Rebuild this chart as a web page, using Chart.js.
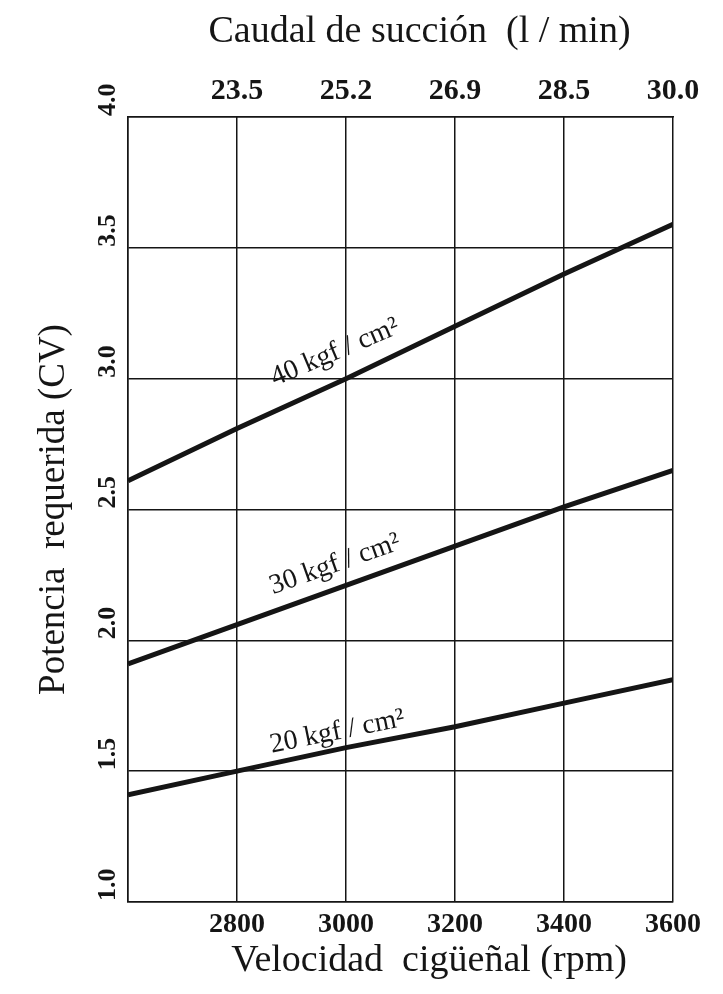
<!DOCTYPE html>
<html><head><meta charset="utf-8">
<script src="https://cdn.jsdelivr.net/npm/chart.js@4"></script>
<style>html,body{margin:0;padding:0;background:#fff}#wrap{width:723px;height:994px;position:relative}</style>
</head><body><div id="wrap"><canvas id="c" width="723" height="994"></canvas></div>
<script>
// ---- data ----
const rpm = [2600, 2800, 3000, 3200, 3400, 3600];
const p40 = [2.61, 2.81, 3.00, 3.20, 3.40, 3.59];
const p30 = [1.91, 2.06, 2.21, 2.36, 2.51, 2.65];
const p20 = [1.41, 1.50, 1.59, 1.67, 1.76, 1.85];
const seriesNames = ['40 kgf / cm²', '30 kgf / cm²', '20 kgf / cm²'];
const rpmTicks = [2800, 3000, 3200, 3400, 3600];
const flowTicks = ['23.5', '25.2', '26.9', '28.5', '30.0'];
const powerTicks = [1.0, 1.5, 2.0, 2.5, 3.0, 3.5, 4.0];
const titleTop = '    Caudal de succión  (l / min)';
const titleBottom = '      Velocidad  cigüeñal (rpm)';
const titleLeft = 'Potencia  requerida (CV)';

// ---- styling ----
const INK = '#151515';
const SERIF = '"Liberation Serif", "DejaVu Serif", serif';
const labelPlacement = [
  {x: 2980, y: 3.10, angle: 23},
  {x: 2980, y: 2.29, angle: 19.5},
  {x: 2984, y: 1.65, angle: 11.5}
];

const yTickPlugin = {
  id: 'yTicks',
  afterDraw(chart) {
    const s = chart.scales.y, ctx = chart.ctx;
    ctx.save();
    ctx.font = 'bold 26px ' + SERIF;
    ctx.fillStyle = INK;
    ctx.textAlign = 'left';
    ctx.textBaseline = 'middle';
    powerTicks.forEach(v => {
      const py = s.getPixelForValue(v);
      ctx.save();
      ctx.translate(s.right - 20, py - 1);
      ctx.rotate(-Math.PI / 2);
      ctx.fillText(v.toFixed(1), 0, 0);
      ctx.restore();
    });
    ctx.restore();
  }
};

const lineLabelPlugin = {
  id: 'lineLabels',
  afterDatasetsDraw(chart) {
    const xs = chart.scales.x, ys = chart.scales.y, ctx = chart.ctx;
    ctx.save();
    ctx.font = '28px ' + SERIF;
    ctx.fillStyle = INK;
    ctx.textAlign = 'center';
    ctx.textBaseline = 'middle';
    chart.data.datasets.forEach((ds, i) => {
      const p = labelPlacement[i];
      ctx.save();
      ctx.translate(xs.getPixelForValue(p.x), ys.getPixelForValue(p.y));
      ctx.rotate(-p.angle * Math.PI / 180);
      ctx.fillText(ds.label, 0, 0);
      ctx.restore();
    });
    ctx.restore();
  }
};

const series = [p40, p30, p20];
const datasets = series.map((vals, i) => ({
  label: seriesNames[i],
  data: rpm.map((x, j) => ({x: x, y: vals[j]})),
  borderColor: INK,
  borderWidth: 5,
  pointRadius: 0,
  tension: 0,
  fill: false
}));

const gridOpts = {color: INK, lineWidth: 1.5, drawTicks: false};
const borderOpts = {display: true, color: INK, width: 1.5};

new Chart(document.getElementById('c'), {
  type: 'line',
  data: {datasets: datasets},
  plugins: [yTickPlugin, lineLabelPlugin],
  options: {
    responsive: false,
    animation: false,
    devicePixelRatio: 1,
    layout: {padding: {left: 0, right: 50, top: 0, bottom: 0}},
    plugins: {legend: {display: false}, tooltip: {enabled: false}},
    scales: {
      x: {
        type: 'linear', position: 'bottom', min: 2600, max: 3600,
        grid: gridOpts, border: borderOpts,
        ticks: {
          stepSize: 200, padding: 9, color: INK,
          font: {family: SERIF, size: 28, weight: 'bold', lineHeight: 1},
          callback: v => rpmTicks.includes(v) ? String(v) : ''
        },
        title: {display: true, text: titleBottom, color: INK,
          font: {family: SERIF, size: 38, lineHeight: 1.2}, padding: {top: 0, bottom: 10}},
        afterFit: s => { s.height = 92; }
      },
      x2: {
        type: 'linear', position: 'top', min: 2600, max: 3600,
        grid: {display: false, drawTicks: false}, border: borderOpts,
        ticks: {
          stepSize: 200, padding: 11, color: INK,
          font: {family: SERIF, size: 30, weight: 'bold', lineHeight: 1},
          callback: v => { const k = rpmTicks.indexOf(v); return k >= 0 ? flowTicks[k] : ''; }
        },
        title: {display: true, text: titleTop, color: INK,
          font: {family: SERIF, size: 38, lineHeight: 1.2}, padding: {top: 9, bottom: 0}},
        afterFit: s => { s.height = 117; }
      },
      y: {
        type: 'linear', position: 'left', min: 1, max: 4,
        grid: gridOpts, border: borderOpts,
        ticks: {stepSize: 0.5, display: false},
        title: {display: true, text: titleLeft, color: INK,
          font: {family: SERIF, size: 37, lineHeight: 1.2}, padding: {top: 32, bottom: 0}},
        afterFit: s => { s.width = 128; }
      }
    }
  }
});
</script>
</body></html>
